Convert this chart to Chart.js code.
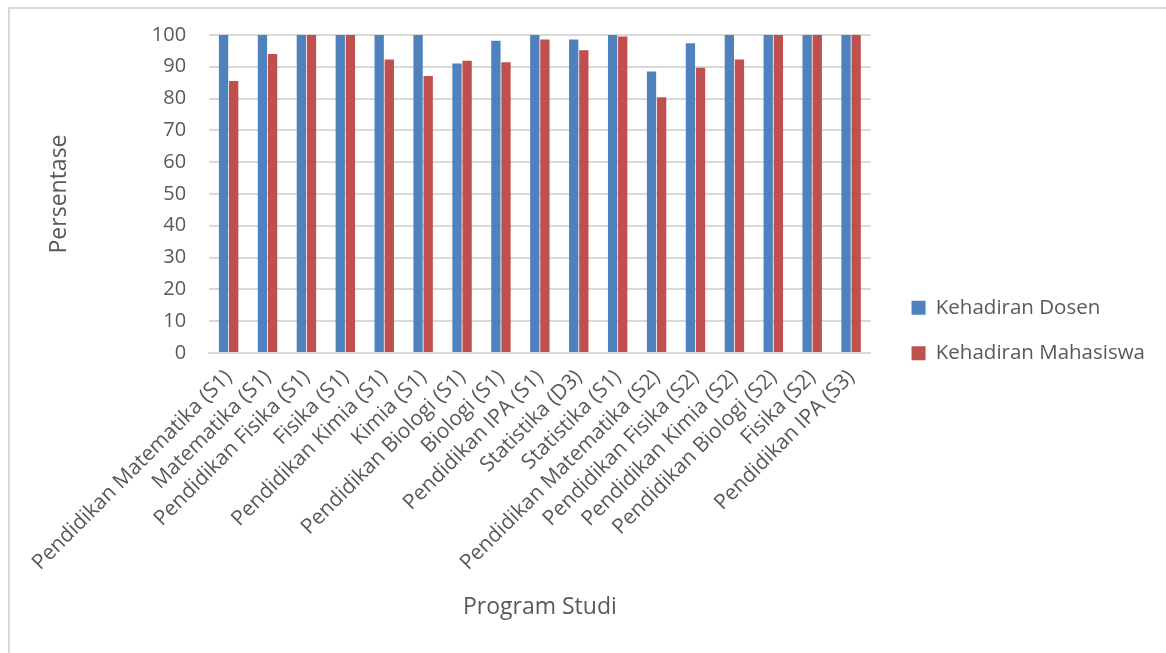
<!DOCTYPE html>
<html>
<head>
<meta charset="utf-8">
<script src="https://cdn.jsdelivr.net/npm/chart.js@4"></script>
<style>
html,body{margin:0;padding:0;background:#fff;}
#wrap{position:relative;width:1166px;height:653px;overflow:hidden;}
#frame{position:absolute;left:8px;top:7px;width:1300px;height:800px;border-left:2px solid #d9d9d9;border-top:2px solid #d9d9d9;box-sizing:border-box;}
canvas{position:absolute;left:0;top:0;}
</style>
</head>
<body>
<div id="wrap"><div id="frame"></div><canvas id="c" width="1166" height="653"></canvas></div>
<script>
// program studi
const prodi=['Pendidikan Matematika (S1)','Matematika (S1)','Pendidikan Fisika (S1)','Fisika (S1)',
  'Pendidikan Kimia (S1)','Kimia (S1)','Pendidikan Biologi (S1)','Biologi (S1)','Pendidikan IPA (S1)',
  'Statistika (D3)','Statistika (S1)','Pendidikan Matematika (S2)','Pendidikan Fisika (S2)',
  'Pendidikan Kimia (S2)','Pendidikan Biologi (S2)','Fisika (S2)','Pendidikan IPA (S3)'];
const dosen=[100,100,100,100,100,100,91,98.2,100,98.6,100,88.5,97.4,100,100,100,100];
const mahasiswa=[85.5,94,100,100,92.3,87.1,91.9,91.4,98.6,95.2,99.5,80.4,89.7,92.3,100,100,100];
const yTicks=[0,10,20,30,40,50,60,70,80,90,100];

const txt='#595959', grid='#d9d9d9';
const fam='"Open Sans", sans-serif';

new Chart(document.getElementById('c'),{
  type:'bar',
  data:{labels:prodi,datasets:[
    {label:'Kehadiran Dosen',data:dosen,backgroundColor:'#4f81bd'},
    {label:'Kehadiran Mahasiswa',data:mahasiswa,backgroundColor:'#c0504d'}
  ]},
  options:{
    responsive:false,animation:false,
    categoryPercentage:0.52,barPercentage:0.92,
    layout:{padding:{left:20,top:28,right:11,bottom:20}},
    plugins:{
      legend:{position:'right',maxWidth:300,labels:{color:txt,font:{family:fam,size:20.5},boxWidth:14,boxHeight:14,padding:25}},
      tooltip:{enabled:false}
    },
    scales:{
      y:{min:0,max:100,
        afterBuildTicks:s=>{s.ticks=yTicks.map(v=>({value:v}));},
        ticks:{color:txt,font:{family:fam,size:20},padding:23},
        grid:{color:grid,lineWidth:2,drawTicks:false},
        border:{display:false},
        title:{display:true,text:'Persentase',color:txt,font:{family:fam,size:23},padding:{top:26,bottom:76}}
      },
      // spacer between plot and legend
      gap:{position:'right',display:true,grid:{display:false},ticks:{display:false},border:{display:false},
        afterFit:s=>{s.width=16;}},
      x:{
        ticks:{color:txt,font:{family:fam,size:21},autoSkip:false,minRotation:45,maxRotation:45,padding:4},
        grid:{display:false},
        border:{color:grid,width:2},
        title:{display:true,text:'Program Studi',color:txt,font:{family:fam,size:23},padding:{top:14,bottom:12}}
      }
    }
  }
});
</script>
</body>
</html>
